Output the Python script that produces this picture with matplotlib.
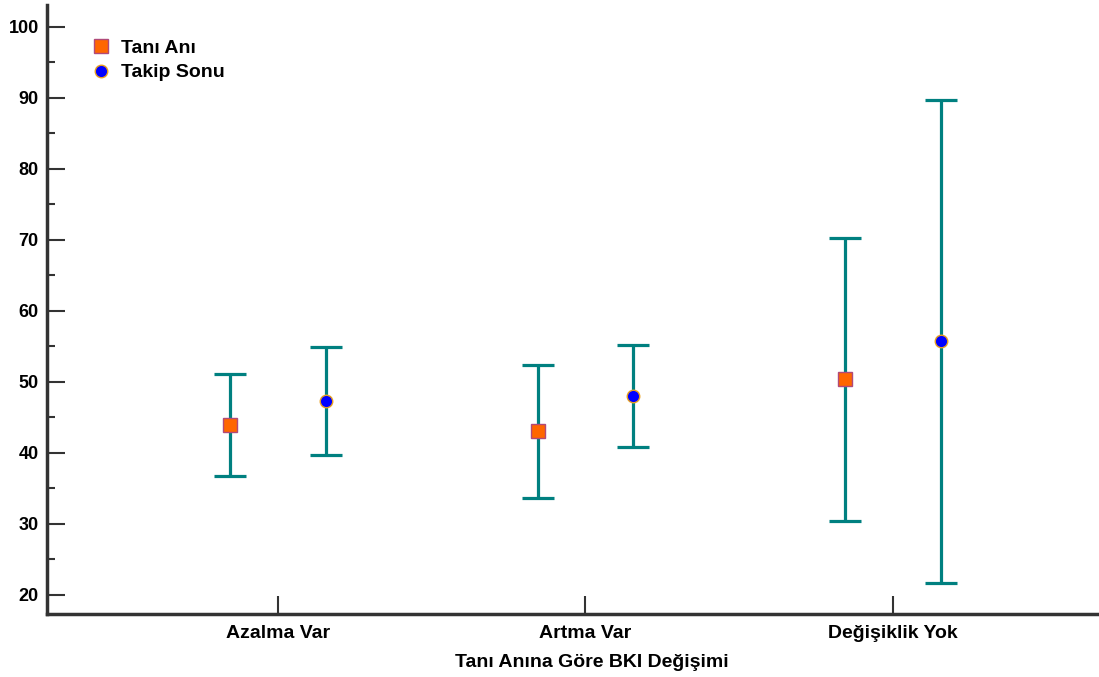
import matplotlib.pyplot as plt
import numpy as np

plt.rcParams['font.family'] = ['Liberation Sans', 'DejaVu Sans']

# BKI ortalama ve guven araliklari
categories = ['Azalma Var', 'Artma Var', 'Değişiklik Yok']
tani_mean = [43.9, 43.1, 50.4]
tani_low = [36.8, 33.7, 30.4]
tani_high = [51.1, 52.4, 70.3]
takip_mean = [47.3, 48.0, 55.8]
takip_low = [39.7, 40.8, 21.7]
takip_high = [54.9, 55.2, 89.7]

teal = '#008080'
x = np.arange(1, len(categories) + 1)
off = 0.155

fig = plt.figure(figsize=(10.99, 6.77), dpi=100)
ax = fig.add_axes([0.0428, 0.093, 0.9572, 0.9])

def errbars(xs, mean, low, high):
    mean = np.array(mean)
    err = [mean - np.array(low), np.array(high) - mean]
    ax.errorbar(xs, mean, yerr=err, fmt='none', ecolor=teal, elinewidth=2.3,
                capsize=11.5, capthick=2.3, zorder=2)

errbars(x - off, tani_mean, tani_low, tani_high)
h1, = ax.plot(x - off, tani_mean, 's', ms=9.5, mfc='#ff6600', mec='#b04a7a',
              mew=1.0, zorder=3, label='Tanı Anı')
errbars(x + off, takip_mean, takip_low, takip_high)
h2, = ax.plot(x + off, takip_mean, 'o', ms=9, mfc='#0000ff', mec='#e8a020',
              mew=1.0, zorder=3, label='Takip Sonu')

ax.set_xlim(0.249, 3.67)
ax.set_ylim(17.3, 103.1)
ax.set_yticks(np.arange(20, 101, 10))
ax.set_yticks(np.arange(25, 100, 10), minor=True)
ax.set_xticks(x)
ax.set_xticklabels(categories)

for s in ['top', 'right']:
    ax.spines[s].set_visible(False)
for s in ['left', 'bottom']:
    ax.spines[s].set_linewidth(2.5)
    ax.spines[s].set_color('#333333')

ax.tick_params(axis='y', which='major', direction='in', length=13, width=1.5,
               color='#333333', labelsize=13, pad=6)
ax.tick_params(axis='y', which='minor', direction='in', length=6, width=1.5,
               color='#333333')
ax.tick_params(axis='x', which='major', direction='in', length=13, width=1.5,
               color='#333333', labelsize=14, pad=8)
for lab in ax.get_xticklabels() + ax.get_yticklabels():
    lab.set_fontweight('bold')

ax.set_xlabel('Tanı Anına Göre BKI Değişimi', fontsize=14, fontweight='bold')
ax.xaxis.set_label_coords(0.518, -0.079)
ax.xaxis.label.set_va('center')

ax.legend(handles=[h1, h2], loc='upper left', bbox_to_anchor=(0.024, 0.972),
          frameon=False, prop={'weight': 'bold', 'size': 14},
          handletextpad=0.4, labelspacing=0.35, handlelength=1.2)

fig.savefig('out.png', dpi=100)
